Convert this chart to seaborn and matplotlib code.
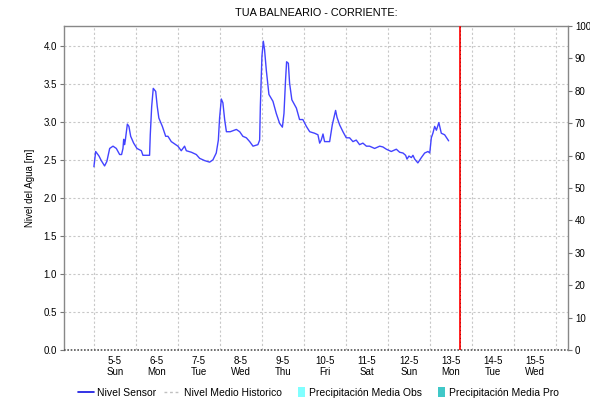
import matplotlib
matplotlib.use("Agg")
import matplotlib.pyplot as plt
from matplotlib.lines import Line2D
from matplotlib.patches import Patch, Rectangle
from matplotlib.legend_handler import HandlerPatch
import pandas as pd
import seaborn as sns

# Sensor readings: hours after 5-5 00:00 and water level [m]
hours = [0, 1.0, 2.9, 4.2, 6.1, 7.4, 9.0, 10.9, 12.8, 14.7, 15.8, 16.6, 17.0, 17.5,
         17.9, 19.1, 20.0, 21.0, 22.7, 24.6, 27.1, 28.0, 31.8, 32.2, 33.0, 33.9,
         35.3, 36.2, 37.1, 39.1, 41.0, 42.3, 44.2, 46.1, 48.0, 49.9, 51.8, 52.8,
         55.7, 58.5, 60.4, 63.3, 66.1, 68.0, 69.9, 71.1, 71.8, 72.8, 73.7, 74.7,
         75.7, 77.9, 81.4, 83.3, 85.1, 87.1, 89.0, 90.9, 93.7, 94.7, 95.1, 96.0,
         96.8, 97.5, 98.5, 100.0, 102.3, 104.2, 106.1, 107.7, 108.6, 109.5, 110.1,
         111.1, 111.8, 113.1, 115.7, 117.5, 119.4, 121.4, 123.3, 126.1, 128.0,
         129.0, 129.9, 130.9, 131.8, 134.7, 136.2, 138.1, 138.9, 140.4, 142.3,
         144.2, 146.1, 148.0, 149.9, 151.8, 153.7, 155.7, 157.5, 160.4, 163.3,
         165.1, 167.1, 169.9, 172.8, 174.7, 176.6, 178.1, 178.9, 180.0, 181.4,
         182.3, 183.3, 185.1, 187.1, 189.0, 190.9, 191.9, 192.8, 193.7, 194.7,
         195.7, 197.1, 198.5, 200.4, 202.7]
nivel = [2.41, 2.61, 2.55, 2.49, 2.42, 2.48, 2.65, 2.68, 2.65, 2.57, 2.57, 2.65, 2.77, 2.70,
         2.75, 2.97, 2.94, 2.81, 2.72, 2.65, 2.62, 2.56, 2.56, 2.83, 3.20, 3.44,
         3.40, 3.20, 3.05, 2.94, 2.81, 2.81, 2.74, 2.71, 2.68, 2.62, 2.68, 2.62,
         2.60, 2.57, 2.52, 2.49, 2.47, 2.50, 2.59, 2.76, 3.05, 3.30, 3.25, 3.03,
         2.87, 2.87, 2.90, 2.87, 2.81, 2.79, 2.74, 2.68, 2.70, 2.76, 3.20, 3.86,
         4.06, 3.95, 3.68, 3.36, 3.27, 3.11, 2.98, 2.93, 3.11, 3.55, 3.79,
         3.77, 3.51, 3.29, 3.18, 3.03, 3.03, 2.94, 2.87, 2.85, 2.83,
         2.72, 2.76, 2.84, 2.74, 2.74, 2.96, 3.15, 3.06, 2.96, 2.87,
         2.79, 2.79, 2.74, 2.76, 2.70, 2.72, 2.68, 2.68, 2.65, 2.68,
         2.67, 2.64, 2.61, 2.64, 2.60, 2.59, 2.56, 2.51, 2.55, 2.53,
         2.56, 2.51, 2.46, 2.53, 2.59, 2.61, 2.59, 2.79, 2.85, 2.94,
         2.89, 2.99, 2.85, 2.83, 2.75]

start = pd.Timestamp("2019-05-05")
day_labels = ["5-5", "6-5", "7-5", "8-5", "9-5", "10-5", "11-5", "12-5",
              "13-5", "14-5", "15-5"]
weekday_labels = ["Sun", "Mon", "Tue", "Wed", "Thu", "Fri", "Sat", "Sun",
                  "Mon", "Tue", "Wed"]
now_hours = 209.1          # current time marker
x_range_hours = [-17.1, 270.9]
left_ticks = [0.0, 0.5, 1.0, 1.5, 2.0, 2.5, 3.0, 3.5, 4.0]
left_max = 4.26
right_ticks = list(range(0, 101, 10))
legend_labels = ["Nivel Sensor", "Nivel Medio Historico",
                 "Precipitación Media Obs", "Precipitación Media Pro"]

df = pd.DataFrame({"fecha": start + pd.to_timedelta(hours, unit="h"),
                   "nivel": nivel})

sns.set_style("white")
plt.rcParams["font.family"] = ["Liberation Sans", "DejaVu Sans"]
plt.rcParams["text.color"] = "black"
plt.rcParams["xtick.color"] = "black"
plt.rcParams["ytick.color"] = "black"
plt.rcParams["axes.labelcolor"] = "black"

fig = plt.figure(figsize=(5.9, 4.04), dpi=100)
ax = fig.add_axes([64 / 590, 1 - 350 / 404, (568 - 64) / 590, (350 - 26) / 404])

sensor_color = "#4343ff"
sns.lineplot(data=df, x="fecha", y="nivel", ax=ax, color=sensor_color,
             linewidth=1.0, legend=False)

x0 = start + pd.Timedelta(hours=x_range_hours[0])
x1 = start + pd.Timedelta(hours=x_range_hours[1])
ax.set_xlim(x0, x1)
ax.set_ylim(0, left_max)

# Current-time marker
t_now = start + pd.Timedelta(hours=now_hours)
ax.axvline(t_now, color="#ff2020", linewidth=1.4, zorder=4)
ax.axvline(t_now, color="#b00000", linewidth=0.7, linestyle=(0, (1, 3)), zorder=5)

# Zero baseline (precipitation bars start here)
ax.axhline(0, color="#555555", linewidth=1.2, linestyle=(0, (1, 1)), zorder=3,
           clip_on=False)

# Day labels at noon, grid at midnight
midnights = [start + pd.Timedelta(days=i) for i in range(len(day_labels) + 1)]
noons = [start + pd.Timedelta(days=i, hours=12) for i in range(len(day_labels))]
ax.set_xticks(noons)
ax.set_xticklabels([f"{d}\n{w}" for d, w in zip(day_labels, weekday_labels)],
                   fontsize=7, linespacing=1.15)
ax.set_xticks(midnights, minor=True)
ax.tick_params(axis="x", which="both", length=0, pad=4)
ax.grid(True, which="minor", axis="x", color="#c8c8c8", linestyle=(0, (2, 2)),
        linewidth=0.8)

ax.set_yticks(left_ticks)
ax.set_yticklabels([f"{v:.1f}" for v in left_ticks], fontsize=7)
ax.tick_params(axis="y", which="major", length=3, width=0.8, color="#777777",
               pad=2, left=True)
ax.grid(True, which="major", axis="y", color="#c8c8c8", linestyle=(0, (2, 2)),
        linewidth=0.8)
ax.set_xlabel("")
ax.set_ylabel("Nivel del Agua [m]", fontsize=7, labelpad=6)

for side in ["left", "top", "right"]:
    ax.spines[side].set_color("#888888")
    ax.spines[side].set_linewidth(1.0)
ax.spines["bottom"].set_visible(False)

ax2 = ax.twinx()
ax2.set_ylim(0, 100)
ax2.set_yticks(right_ticks)
ax2.set_yticklabels([str(v) for v in right_ticks], fontsize=7)
ax2.tick_params(axis="y", length=3, width=0.8, color="#777777", pad=2)
for side in ["left", "top", "right", "bottom"]:
    ax2.spines[side].set_visible(False)
ax2.grid(False)

ax.set_title("TUA BALNEARIO - CORRIENTE:", fontsize=7.8, pad=7)


def narrow_box(legend, orig_handle, xdescent, ydescent, width, height, fontsize):
    h = height * 1.35
    return Rectangle((xdescent + width - 5.5, ydescent + (height - h) / 2), 5.5, h)


handles = [
    Line2D([], [], color="#1010e0", linewidth=1.2),
    Line2D([], [], color="#c0c0c0", linewidth=1.0, linestyle=(0, (2, 2))),
    Patch(facecolor="#80ffff", edgecolor="none"),
    Patch(facecolor="#40c8c8", edgecolor="none"),
]
fig.legend(handles, legend_labels, loc="center",
           bbox_to_anchor=(318 / 590, 1 - 393 / 404),
           ncol=4, frameon=False, fontsize=7.5, handlelength=1.6,
           handletextpad=0.3, columnspacing=0.7,
           handler_map={Patch: HandlerPatch(patch_func=narrow_box)})

fig.savefig("out.png", dpi=100)
